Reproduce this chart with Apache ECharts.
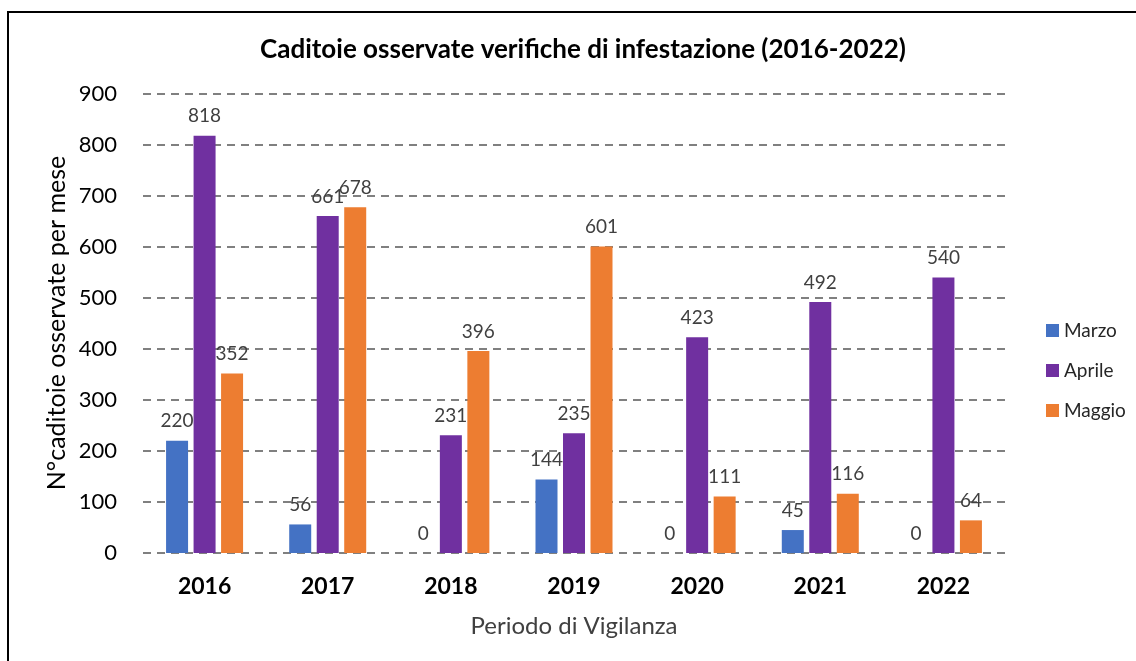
<!DOCTYPE html>
<html>
<head>
<meta charset="utf-8">
<script src="https://cdn.jsdelivr.net/npm/echarts@6/dist/echarts.min.js"></script>
<style>
  html, body { margin: 0; padding: 0; background: #fff; }
  #chart { width: 1136px; height: 661px; }
</style>
</head>
<body>
<div id="chart"></div>
<script>
const years = ['2016', '2017', '2018', '2019', '2020', '2021', '2022'];
const marzo = [220, 56, 0, 144, 0, 45, 0];
const aprile = [818, 661, 231, 235, 423, 492, 540];
const maggio = [352, 678, 396, 601, 111, 116, 64];
const yTicks = { min: 0, max: 900, interval: 100 };

const font = 'Lato, "Open Sans", sans-serif';

function barSeries(name, data, color) {
  return {
    name,
    type: 'bar',
    data,
    barWidth: 22,
    barGap: '25%',
    itemStyle: { color },
    label: {
      show: true,
      position: 'top',
      distance: 10,
      color: '#404040',
      fontFamily: font,
      fontSize: 19
    }
  };
}

const chart = echarts.init(document.getElementById('chart'));
chart.setOption({
  animation: false,
  title: {
    text: 'Caditoie osservate verifiche di infestazione (2016-2022)',
    left: 578,
    textAlign: 'center',
    top: 32,
    textStyle: { fontFamily: font, fontSize: 26, fontWeight: 'bold', color: '#000' }
  },
  legend: {
    orient: 'vertical',
    left: 1041,
    top: 316,
    itemWidth: 13,
    itemHeight: 13,
    itemGap: 21,
    icon: 'rect',
    textStyle: { fontFamily: font, fontSize: 19, color: '#262626' }
  },
  grid: { left: 143, right: 131, top: 94, bottom: 108 },
  xAxis: {
    type: 'category',
    data: years,
    name: 'Periodo di Vigilanza',
    nameLocation: 'middle',
    nameGap: 61,
    nameTextStyle: { fontFamily: font, fontSize: 24, color: '#404040' },
    axisLine: { show: false },
    axisTick: { show: false },
    axisLabel: { margin: 22, fontFamily: font, fontSize: 23, fontWeight: 'bold', color: '#000' }
  },
  yAxis: {
    type: 'value',
    min: yTicks.min,
    max: yTicks.max,
    interval: yTicks.interval,
    axisLabel: { margin: 26, fontFamily: font, fontSize: 22, color: '#000' },
    splitLine: { lineStyle: { color: '#808080', width: 2, type: [8, 6] } }
  },
  graphic: [{
    type: 'rect',
    shape: { x: 8, y: 12, width: 1200, height: 800 },
    style: { fill: null, stroke: '#000', lineWidth: 2 },
    silent: true
  }, {
    // y axis title, placed by hand
    type: 'text',
    x: 57,
    y: 323,
    rotation: Math.PI / 2,
    silent: true,
    style: {
      text: 'N°caditoie osservate per mese',
      fontFamily: font,
      fontSize: 25,
      fill: '#000',
      align: 'center',
      verticalAlign: 'middle'
    }
  }],
  series: [
    barSeries('Marzo', marzo, '#4472C4'),
    barSeries('Aprile', aprile, '#7030A0'),
    barSeries('Maggio', maggio, '#ED7D31')
  ]
});
</script>
</body>
</html>
